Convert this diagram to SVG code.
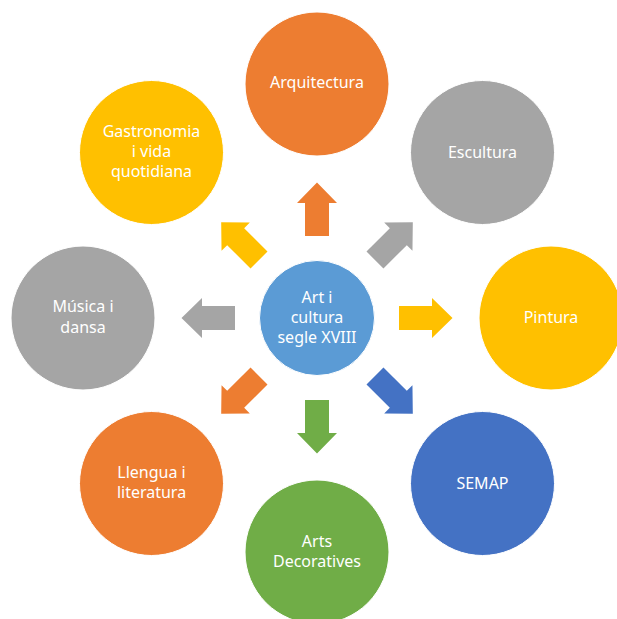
<svg xmlns="http://www.w3.org/2000/svg" xmlns:xlink="http://www.w3.org/1999/xlink" width="617" height="619" viewBox="0 0 617 619">
<style>
.c{stroke:#fff;stroke-width:1}
.t{font-family:"Noto Sans","Liberation Sans",sans-serif;font-size:16px;fill:#fff;text-anchor:middle}
.orange{fill:#ED7D31}.gray{fill:#A5A5A5}.yellow{fill:#FFC000}.blue{fill:#4472C4}.green{fill:#70AD47}.center{fill:#5B9BD5}
</style>
<defs>
<path id="arr" d="M-12,-82 L-12,-115 L-20,-115 L0,-135.5 L20,-115 L12,-115 L12,-82 Z"/>
</defs>
<rect width="617" height="619" fill="#fff"/>
<g id="connectors" transform="translate(317,318)">
<use xlink:href="#arr" class="orange"/>
<use xlink:href="#arr" class="gray" transform="rotate(45)"/>
<use xlink:href="#arr" class="yellow" transform="rotate(90)"/>
<use xlink:href="#arr" class="blue" transform="rotate(135)"/>
<use xlink:href="#arr" class="green" transform="rotate(180)"/>
<use xlink:href="#arr" class="orange" transform="rotate(225)"/>
<use xlink:href="#arr" class="gray" transform="rotate(270)"/>
<use xlink:href="#arr" class="yellow" transform="rotate(315)"/>
</g>
<g id="center">
<circle class="c center" cx="317" cy="318" r="57.5"/>
<text class="t"><tspan x="317" y="303">Art i</tspan><tspan x="317" y="323">cultura</tspan><tspan x="317" y="343">segle XVIII</tspan></text>
</g>
<g id="arquitectura">
<circle class="c orange" cx="317" cy="84" r="72"/>
<text class="t" x="317" y="88">Arquitectura</text>
</g>
<g id="escultura">
<circle class="c gray" cx="482.5" cy="152.5" r="72"/>
<text class="t" x="482.5" y="158">Escultura</text>
</g>
<g id="pintura">
<circle class="c yellow" cx="551" cy="318" r="72"/>
<text class="t" x="551" y="323">Pintura</text>
</g>
<g id="semap">
<circle class="c blue" cx="482.5" cy="483.5" r="72"/>
<text class="t" x="482.5" y="489">SEMAP</text>
</g>
<g id="arts-decoratives">
<circle class="c green" cx="317" cy="552" r="72"/>
<text class="t"><tspan x="317" y="547">Arts</tspan><tspan x="317" y="567">Decoratives</tspan></text>
</g>
<g id="llengua">
<circle class="c orange" cx="151.5" cy="483.5" r="72"/>
<text class="t"><tspan x="151.5" y="478">Llengua i</tspan><tspan x="151.5" y="498">literatura</tspan></text>
</g>
<g id="musica">
<circle class="c gray" cx="83" cy="318" r="72"/>
<text class="t"><tspan x="83" y="312">Música i</tspan><tspan x="83" y="333">dansa</tspan></text>
</g>
<g id="gastronomia">
<circle class="c yellow" cx="151.5" cy="152.5" r="72"/>
<text class="t"><tspan x="151.5" y="137">Gastronomia</tspan><tspan x="151.5" y="157">i vida</tspan><tspan x="151.5" y="177">quotidiana</tspan></text>
</g>
</svg>
